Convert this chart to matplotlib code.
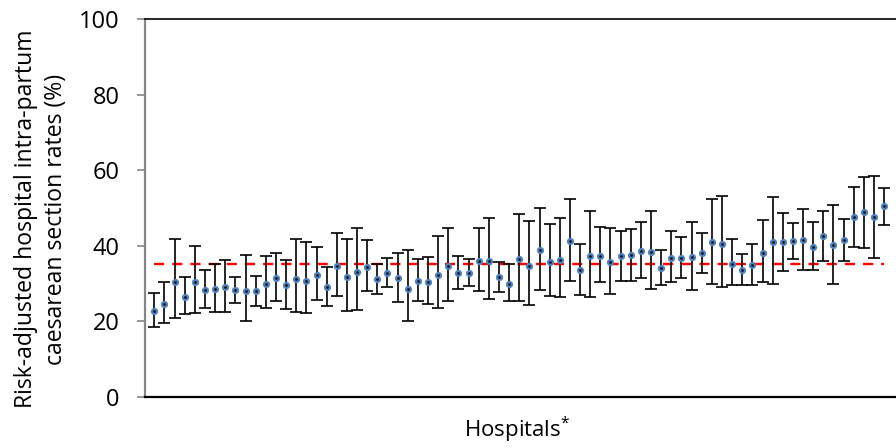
import numpy as np
import matplotlib
matplotlib.use("Agg")
import matplotlib.pyplot as plt

# risk-adjusted rates per hospital, sorted roughly low to high
rates = [22.8, 24.7, 30.5, 26.5, 30.4, 28.2, 28.5, 29.0, 28.4, 28.1,
         28.0, 29.9, 31.4, 29.5, 31.2, 30.7, 32.4, 29.0, 34.7, 31.7,
         33.1, 34.5, 31.3, 32.8, 31.5, 28.7, 30.8, 30.5, 32.3, 34.7,
         32.9, 32.8, 35.9, 35.9, 31.8, 30.0, 36.5, 34.7, 38.9, 35.7,
         36.3, 41.2, 33.6, 37.2, 37.4, 35.6, 37.2, 37.5, 38.7, 38.3,
         34.2, 36.9, 36.9, 37.0, 38.0, 40.9, 40.6, 35.3, 33.6, 35.0,
         38.1, 41.1, 40.9, 41.3, 41.5, 39.8, 42.6, 40.1, 41.6, 47.6,
         49.0, 47.6, 50.4]

upper = [27.6, 30.5, 41.9, 31.7, 39.9, 33.5, 35.2, 36.3, 31.8, 37.6,
         31.9, 37.3, 38.1, 36.3, 41.8, 40.9, 39.8, 34.5, 43.4, 41.9,
         44.8, 41.6, 35.2, 36.7, 38.1, 38.9, 36.5, 37.0, 42.7, 44.8,
         37.3, 36.5, 44.8, 47.4, 35.8, 35.2, 48.5, 46.6, 50.1, 45.7,
         47.3, 52.3, 40.5, 49.2, 45.0, 44.8, 43.8, 44.5, 46.3, 49.1,
         38.9, 43.8, 42.3, 46.2, 43.5, 52.5, 53.2, 41.7, 37.8, 40.6,
         46.7, 53.0, 48.8, 45.9, 49.7, 46.3, 49.1, 50.9, 47.1, 55.6,
         58.1, 58.4, 55.2]

lower = [18.6, 19.5, 21.0, 21.9, 22.2, 23.5, 22.4, 22.5, 25.0, 20.1,
         24.2, 23.5, 25.3, 23.4, 22.4, 22.1, 25.7, 24.1, 26.8, 22.8,
         23.1, 28.1, 27.3, 29.1, 25.2, 20.1, 25.5, 24.6, 23.5, 25.5,
         28.6, 29.3, 28.1, 25.9, 27.8, 25.3, 25.5, 24.3, 28.4, 26.8,
         26.5, 30.8, 27.1, 26.5, 30.4, 27.3, 30.8, 30.8, 31.5, 28.5,
         29.7, 30.3, 31.6, 28.4, 32.7, 30.0, 29.1, 29.5, 29.7, 29.6,
         30.3, 30.0, 33.4, 36.6, 33.6, 33.7, 36.1, 29.9, 36.1, 39.7,
         39.4, 36.7, 45.4]

overall_rate = 35.2
y_ticks = [0, 20, 40, 60, 80, 100]

plt.rcParams['font.family'] = ['Open Sans', 'DejaVu Sans']

rates = np.array(rates)
hosp = np.arange(1, len(rates) + 1)
err = [rates - np.array(lower), np.array(upper) - rates]

fig = plt.figure(figsize=(8.96, 4.48), dpi=100)
ax = fig.add_axes([144.5 / 896, 1 - 397 / 448, 1 - 144.5 / 896, 378 / 448])

# overall average
ax.plot([hosp[0], hosp[-1]], [overall_rate, overall_rate], color='#FF0000',
        lw=1.7, dashes=(4.3, 3.4), dash_capstyle='butt', zorder=1)

ax.errorbar(hosp, rates, yerr=err, fmt='none', ecolor='black',
            elinewidth=1.2, capsize=4.4, capthick=1.2, zorder=2)
ax.plot(hosp, rates, 'o', ms=3.6, mfc='#111111', mec='#4F81BD', mew=1.6, zorder=3)

ax.set_ylim(0, 100)
ax.set_xlim(0.03, 74.17)
ax.set_yticks(y_ticks)
ax.set_xticks([])
ax.tick_params(axis='y', direction='out', length=6, width=1.2, color='#868686',
               labelsize=17, pad=12)

ax.spines['right'].set_visible(False)
ax.spines['left'].set_color('#868686')
ax.spines['left'].set_linewidth(1.6)
ax.spines['bottom'].set_linewidth(1.6)
ax.spines['top'].set_linewidth(1.2)

fig.text(41 / 896, 1 - 219 / 448,
         'Risk-adjusted hospital intra-partum\ncaesarean section rates (%)',
         rotation=90, ha='center', va='center', multialignment='center',
         fontsize=16.6, linespacing=1.3)
fig.text(517 / 896, 1 - 430 / 448, r'Hospitals$\mathregular{^{*}}$',
         ha='center', va='center', fontsize=16)

fig.savefig('out.png', dpi=100)
